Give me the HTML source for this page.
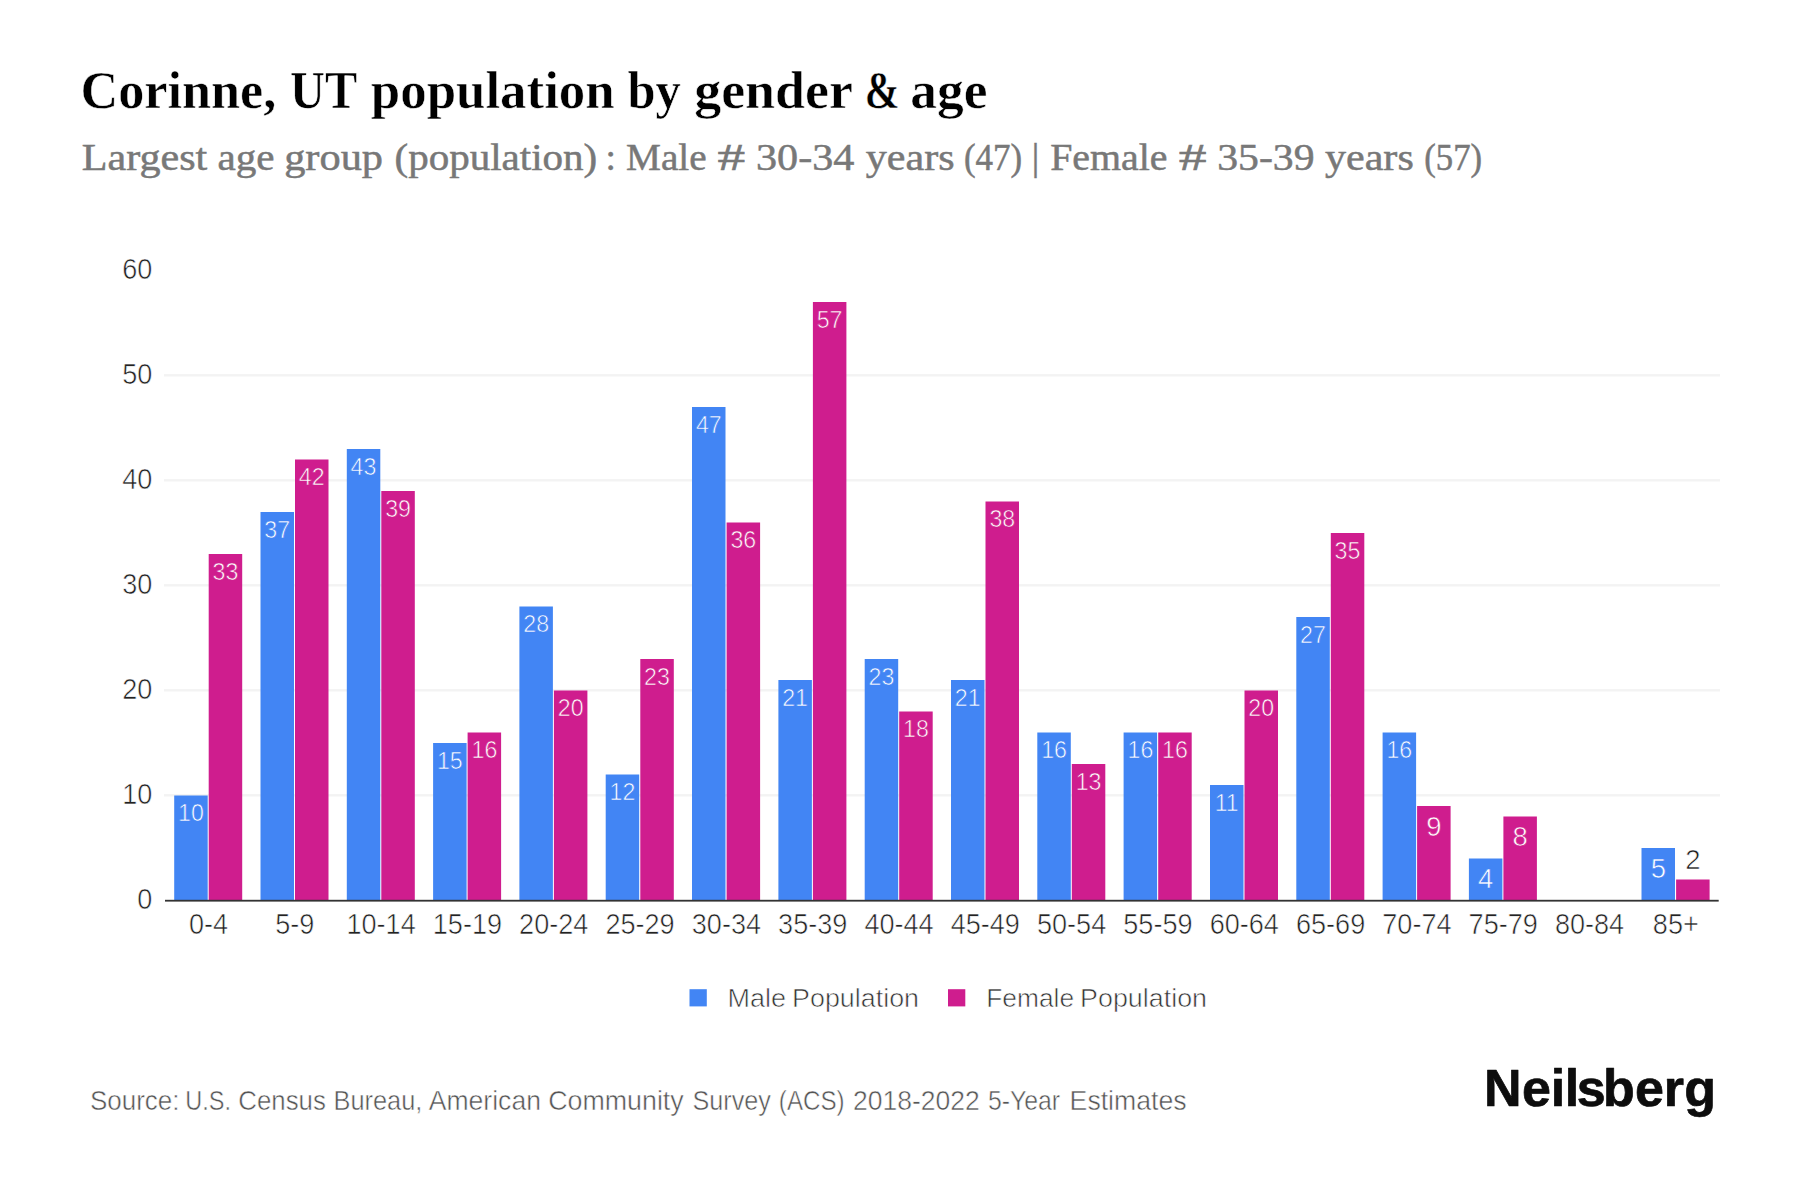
<!DOCTYPE html>
<html lang="en"><head><meta charset="utf-8"><title>Corinne, UT population by gender &amp; age</title>
<style>html,body{margin:0;padding:0;background:#fff}body{width:1800px;height:1200px;overflow:hidden}svg{display:block}text{white-space:pre}</style>
</head><body>
<svg width="1800" height="1200" viewBox="0 0 1800 1200">
<rect width="1800" height="1200" fill="#ffffff"/>
<g id="title">
<text y="107.8" font-family="'Liberation Serif', 'Times New Roman', serif" font-size="52" fill="#000000" font-weight="bold" stroke="#ffffff" stroke-width="0.5"><tspan x="80.55" textLength="195.78" lengthAdjust="spacingAndGlyphs">Corinne,</tspan> <tspan x="290.05" textLength="66.26" lengthAdjust="spacingAndGlyphs">UT</tspan> <tspan x="370.80" textLength="243.89" lengthAdjust="spacingAndGlyphs">population</tspan> <tspan x="627.50" textLength="53.30" lengthAdjust="spacingAndGlyphs">by</tspan> <tspan x="694.16" textLength="157.88" lengthAdjust="spacingAndGlyphs">gender</tspan> <tspan x="864.74" textLength="34.76" lengthAdjust="spacingAndGlyphs">&amp;</tspan> <tspan x="910.33" textLength="77.14" lengthAdjust="spacingAndGlyphs">age</tspan></text>
</g>
<g id="subtitle">
<text y="170" font-family="'Liberation Serif', 'Times New Roman', serif" font-size="37.5" fill="#787878" stroke="#787878" stroke-width="0.5"><tspan x="81.84" textLength="125.51" lengthAdjust="spacingAndGlyphs">Largest</tspan> <tspan x="217.51" textLength="57.09" lengthAdjust="spacingAndGlyphs">age</tspan> <tspan x="284.18" textLength="98.85" lengthAdjust="spacingAndGlyphs">group</tspan> <tspan x="394.52" textLength="202.76" lengthAdjust="spacingAndGlyphs">(population)</tspan> <tspan x="605.58" textLength="10.42" lengthAdjust="spacingAndGlyphs">:</tspan> <tspan x="626.09" textLength="80.57" lengthAdjust="spacingAndGlyphs">Male</tspan> <tspan x="717.44" textLength="27.63" lengthAdjust="spacingAndGlyphs">#</tspan> <tspan x="756.02" textLength="98.33" lengthAdjust="spacingAndGlyphs">30-34</tspan> <tspan x="865.80" textLength="88.75" lengthAdjust="spacingAndGlyphs">years</tspan> <tspan x="963.91" textLength="58.15" lengthAdjust="spacingAndGlyphs">(47)</tspan> <tspan x="1031.63" textLength="7.51" lengthAdjust="spacingAndGlyphs">|</tspan> <tspan x="1050.18" textLength="117.40" lengthAdjust="spacingAndGlyphs">Female</tspan> <tspan x="1178.83" textLength="27.84" lengthAdjust="spacingAndGlyphs">#</tspan> <tspan x="1217.24" textLength="97.36" lengthAdjust="spacingAndGlyphs">35-39</tspan> <tspan x="1325.00" textLength="88.75" lengthAdjust="spacingAndGlyphs">years</tspan> <tspan x="1424.22" textLength="57.84" lengthAdjust="spacingAndGlyphs">(57)</tspan></text>
</g>
<rect x="164" y="794.1" width="1556" height="2.4" fill="#f3f3f3"/>
<rect x="164" y="689.1" width="1556" height="2.4" fill="#f3f3f3"/>
<rect x="164" y="584.1" width="1556" height="2.4" fill="#f3f3f3"/>
<rect x="164" y="479.1" width="1556" height="2.4" fill="#f3f3f3"/>
<rect x="164" y="374.1" width="1556" height="2.4" fill="#f3f3f3"/>
<text transform="translate(152.3,909.0) scale(0.94,1)" text-anchor="end" font-family="'Liberation Sans', Arial, sans-serif" font-size="28.8" fill="#222222" stroke="#ffffff" stroke-width="0.6">0</text>
<text transform="translate(152.3,804.0) scale(0.94,1)" text-anchor="end" font-family="'Liberation Sans', Arial, sans-serif" font-size="28.8" fill="#222222" stroke="#ffffff" stroke-width="0.6">10</text>
<text transform="translate(152.3,699.0) scale(0.94,1)" text-anchor="end" font-family="'Liberation Sans', Arial, sans-serif" font-size="28.8" fill="#222222" stroke="#ffffff" stroke-width="0.6">20</text>
<text transform="translate(152.3,594.0) scale(0.94,1)" text-anchor="end" font-family="'Liberation Sans', Arial, sans-serif" font-size="28.8" fill="#222222" stroke="#ffffff" stroke-width="0.6">30</text>
<text transform="translate(152.3,489.0) scale(0.94,1)" text-anchor="end" font-family="'Liberation Sans', Arial, sans-serif" font-size="28.8" fill="#222222" stroke="#ffffff" stroke-width="0.6">40</text>
<text transform="translate(152.3,384.0) scale(0.94,1)" text-anchor="end" font-family="'Liberation Sans', Arial, sans-serif" font-size="28.8" fill="#222222" stroke="#ffffff" stroke-width="0.6">50</text>
<text transform="translate(152.3,279.0) scale(0.94,1)" text-anchor="end" font-family="'Liberation Sans', Arial, sans-serif" font-size="28.8" fill="#222222" stroke="#ffffff" stroke-width="0.6">60</text>
<rect x="174.2" y="795.5" width="33.5" height="105.0" fill="#4285f4"/>
<rect x="208.7" y="554.0" width="33.5" height="346.5" fill="#cf1d8e"/>
<text transform="translate(208.5,933.8) scale(0.94,1)" text-anchor="middle" font-family="'Liberation Sans', Arial, sans-serif" font-size="28.8" fill="#222222" stroke="#ffffff" stroke-width="0.6">0-4</text>
<rect x="260.5" y="512.0" width="33.5" height="388.5" fill="#4285f4"/>
<rect x="295.0" y="459.5" width="33.5" height="441.0" fill="#cf1d8e"/>
<text transform="translate(294.8,933.8) scale(0.94,1)" text-anchor="middle" font-family="'Liberation Sans', Arial, sans-serif" font-size="28.8" fill="#222222" stroke="#ffffff" stroke-width="0.6">5-9</text>
<rect x="346.8" y="449.0" width="33.5" height="451.5" fill="#4285f4"/>
<rect x="381.3" y="491.0" width="33.5" height="409.5" fill="#cf1d8e"/>
<text transform="translate(381.1,933.8) scale(0.94,1)" text-anchor="middle" font-family="'Liberation Sans', Arial, sans-serif" font-size="28.8" fill="#222222" stroke="#ffffff" stroke-width="0.6">10-14</text>
<rect x="433.1" y="743.0" width="33.5" height="157.5" fill="#4285f4"/>
<rect x="467.6" y="732.5" width="33.5" height="168.0" fill="#cf1d8e"/>
<text transform="translate(467.4,933.8) scale(0.94,1)" text-anchor="middle" font-family="'Liberation Sans', Arial, sans-serif" font-size="28.8" fill="#222222" stroke="#ffffff" stroke-width="0.6">15-19</text>
<rect x="519.4" y="606.5" width="33.5" height="294.0" fill="#4285f4"/>
<rect x="553.9" y="690.5" width="33.5" height="210.0" fill="#cf1d8e"/>
<text transform="translate(553.7,933.8) scale(0.94,1)" text-anchor="middle" font-family="'Liberation Sans', Arial, sans-serif" font-size="28.8" fill="#222222" stroke="#ffffff" stroke-width="0.6">20-24</text>
<rect x="605.7" y="774.5" width="33.5" height="126.0" fill="#4285f4"/>
<rect x="640.3" y="659.0" width="33.5" height="241.5" fill="#cf1d8e"/>
<text transform="translate(640.0,933.8) scale(0.94,1)" text-anchor="middle" font-family="'Liberation Sans', Arial, sans-serif" font-size="28.8" fill="#222222" stroke="#ffffff" stroke-width="0.6">25-29</text>
<rect x="692.0" y="407.0" width="33.5" height="493.5" fill="#4285f4"/>
<rect x="726.6" y="522.5" width="33.5" height="378.0" fill="#cf1d8e"/>
<text transform="translate(726.4,933.8) scale(0.94,1)" text-anchor="middle" font-family="'Liberation Sans', Arial, sans-serif" font-size="28.8" fill="#222222" stroke="#ffffff" stroke-width="0.6">30-34</text>
<rect x="778.4" y="680.0" width="33.5" height="220.5" fill="#4285f4"/>
<rect x="812.9" y="302.0" width="33.5" height="598.5" fill="#cf1d8e"/>
<text transform="translate(812.7,933.8) scale(0.94,1)" text-anchor="middle" font-family="'Liberation Sans', Arial, sans-serif" font-size="28.8" fill="#222222" stroke="#ffffff" stroke-width="0.6">35-39</text>
<rect x="864.7" y="659.0" width="33.5" height="241.5" fill="#4285f4"/>
<rect x="899.2" y="711.5" width="33.5" height="189.0" fill="#cf1d8e"/>
<text transform="translate(899.0,933.8) scale(0.94,1)" text-anchor="middle" font-family="'Liberation Sans', Arial, sans-serif" font-size="28.8" fill="#222222" stroke="#ffffff" stroke-width="0.6">40-44</text>
<rect x="951.0" y="680.0" width="33.5" height="220.5" fill="#4285f4"/>
<rect x="985.5" y="501.5" width="33.5" height="399.0" fill="#cf1d8e"/>
<text transform="translate(985.3,933.8) scale(0.94,1)" text-anchor="middle" font-family="'Liberation Sans', Arial, sans-serif" font-size="28.8" fill="#222222" stroke="#ffffff" stroke-width="0.6">45-49</text>
<rect x="1037.3" y="732.5" width="33.5" height="168.0" fill="#4285f4"/>
<rect x="1071.8" y="764.0" width="33.5" height="136.5" fill="#cf1d8e"/>
<text transform="translate(1071.6,933.8) scale(0.94,1)" text-anchor="middle" font-family="'Liberation Sans', Arial, sans-serif" font-size="28.8" fill="#222222" stroke="#ffffff" stroke-width="0.6">50-54</text>
<rect x="1123.6" y="732.5" width="33.5" height="168.0" fill="#4285f4"/>
<rect x="1158.2" y="732.5" width="33.5" height="168.0" fill="#cf1d8e"/>
<text transform="translate(1157.9,933.8) scale(0.94,1)" text-anchor="middle" font-family="'Liberation Sans', Arial, sans-serif" font-size="28.8" fill="#222222" stroke="#ffffff" stroke-width="0.6">55-59</text>
<rect x="1210.0" y="785.0" width="33.5" height="115.5" fill="#4285f4"/>
<rect x="1244.5" y="690.5" width="33.5" height="210.0" fill="#cf1d8e"/>
<text transform="translate(1244.3,933.8) scale(0.94,1)" text-anchor="middle" font-family="'Liberation Sans', Arial, sans-serif" font-size="28.8" fill="#222222" stroke="#ffffff" stroke-width="0.6">60-64</text>
<rect x="1296.3" y="617.0" width="33.5" height="283.5" fill="#4285f4"/>
<rect x="1330.8" y="533.0" width="33.5" height="367.5" fill="#cf1d8e"/>
<text transform="translate(1330.6,933.8) scale(0.94,1)" text-anchor="middle" font-family="'Liberation Sans', Arial, sans-serif" font-size="28.8" fill="#222222" stroke="#ffffff" stroke-width="0.6">65-69</text>
<rect x="1382.6" y="732.5" width="33.5" height="168.0" fill="#4285f4"/>
<rect x="1417.1" y="806.0" width="33.5" height="94.5" fill="#cf1d8e"/>
<text transform="translate(1416.9,933.8) scale(0.94,1)" text-anchor="middle" font-family="'Liberation Sans', Arial, sans-serif" font-size="28.8" fill="#222222" stroke="#ffffff" stroke-width="0.6">70-74</text>
<rect x="1468.9" y="858.5" width="33.5" height="42.0" fill="#4285f4"/>
<rect x="1503.4" y="816.5" width="33.5" height="84.0" fill="#cf1d8e"/>
<text transform="translate(1503.2,933.8) scale(0.94,1)" text-anchor="middle" font-family="'Liberation Sans', Arial, sans-serif" font-size="28.8" fill="#222222" stroke="#ffffff" stroke-width="0.6">75-79</text>
<text transform="translate(1589.5,933.8) scale(0.94,1)" text-anchor="middle" font-family="'Liberation Sans', Arial, sans-serif" font-size="28.8" fill="#222222" stroke="#ffffff" stroke-width="0.6">80-84</text>
<rect x="1641.5" y="848.0" width="33.5" height="52.5" fill="#4285f4"/>
<rect x="1676.1" y="879.5" width="33.5" height="21.0" fill="#cf1d8e"/>
<text transform="translate(1675.8,933.8) scale(0.94,1)" text-anchor="middle" font-family="'Liberation Sans', Arial, sans-serif" font-size="28.8" fill="#222222" stroke="#ffffff" stroke-width="0.6">85+</text>
<text x="190.9" y="821.1" text-anchor="middle" font-family="'Liberation Sans', Arial, sans-serif" font-size="23.2" fill="#ffffff" stroke="#4285f4" stroke-width="0.6">10</text>
<text x="225.4" y="579.6" text-anchor="middle" font-family="'Liberation Sans', Arial, sans-serif" font-size="23.2" fill="#ffffff" stroke="#cf1d8e" stroke-width="0.6">33</text>
<text x="277.2" y="537.6" text-anchor="middle" font-family="'Liberation Sans', Arial, sans-serif" font-size="23.2" fill="#ffffff" stroke="#4285f4" stroke-width="0.6">37</text>
<text x="311.7" y="485.1" text-anchor="middle" font-family="'Liberation Sans', Arial, sans-serif" font-size="23.2" fill="#ffffff" stroke="#cf1d8e" stroke-width="0.6">42</text>
<text x="363.5" y="474.6" text-anchor="middle" font-family="'Liberation Sans', Arial, sans-serif" font-size="23.2" fill="#ffffff" stroke="#4285f4" stroke-width="0.6">43</text>
<text x="398.1" y="516.6" text-anchor="middle" font-family="'Liberation Sans', Arial, sans-serif" font-size="23.2" fill="#ffffff" stroke="#cf1d8e" stroke-width="0.6">39</text>
<text x="449.8" y="768.6" text-anchor="middle" font-family="'Liberation Sans', Arial, sans-serif" font-size="23.2" fill="#ffffff" stroke="#4285f4" stroke-width="0.6">15</text>
<text x="484.4" y="758.1" text-anchor="middle" font-family="'Liberation Sans', Arial, sans-serif" font-size="23.2" fill="#ffffff" stroke="#cf1d8e" stroke-width="0.6">16</text>
<text x="536.2" y="632.1" text-anchor="middle" font-family="'Liberation Sans', Arial, sans-serif" font-size="23.2" fill="#ffffff" stroke="#4285f4" stroke-width="0.6">28</text>
<text x="570.7" y="716.1" text-anchor="middle" font-family="'Liberation Sans', Arial, sans-serif" font-size="23.2" fill="#ffffff" stroke="#cf1d8e" stroke-width="0.6">20</text>
<text x="622.5" y="800.1" text-anchor="middle" font-family="'Liberation Sans', Arial, sans-serif" font-size="23.2" fill="#ffffff" stroke="#4285f4" stroke-width="0.6">12</text>
<text x="657.0" y="684.6" text-anchor="middle" font-family="'Liberation Sans', Arial, sans-serif" font-size="23.2" fill="#ffffff" stroke="#cf1d8e" stroke-width="0.6">23</text>
<text x="708.8" y="432.6" text-anchor="middle" font-family="'Liberation Sans', Arial, sans-serif" font-size="23.2" fill="#ffffff" stroke="#4285f4" stroke-width="0.6">47</text>
<text x="743.3" y="548.1" text-anchor="middle" font-family="'Liberation Sans', Arial, sans-serif" font-size="23.2" fill="#ffffff" stroke="#cf1d8e" stroke-width="0.6">36</text>
<text x="795.1" y="705.6" text-anchor="middle" font-family="'Liberation Sans', Arial, sans-serif" font-size="23.2" fill="#ffffff" stroke="#4285f4" stroke-width="0.6">21</text>
<text x="829.6" y="327.6" text-anchor="middle" font-family="'Liberation Sans', Arial, sans-serif" font-size="23.2" fill="#ffffff" stroke="#cf1d8e" stroke-width="0.6">57</text>
<text x="881.4" y="684.6" text-anchor="middle" font-family="'Liberation Sans', Arial, sans-serif" font-size="23.2" fill="#ffffff" stroke="#4285f4" stroke-width="0.6">23</text>
<text x="916.0" y="737.1" text-anchor="middle" font-family="'Liberation Sans', Arial, sans-serif" font-size="23.2" fill="#ffffff" stroke="#cf1d8e" stroke-width="0.6">18</text>
<text x="967.7" y="705.6" text-anchor="middle" font-family="'Liberation Sans', Arial, sans-serif" font-size="23.2" fill="#ffffff" stroke="#4285f4" stroke-width="0.6">21</text>
<text x="1002.3" y="527.1" text-anchor="middle" font-family="'Liberation Sans', Arial, sans-serif" font-size="23.2" fill="#ffffff" stroke="#cf1d8e" stroke-width="0.6">38</text>
<text x="1054.1" y="758.1" text-anchor="middle" font-family="'Liberation Sans', Arial, sans-serif" font-size="23.2" fill="#ffffff" stroke="#4285f4" stroke-width="0.6">16</text>
<text x="1088.6" y="789.6" text-anchor="middle" font-family="'Liberation Sans', Arial, sans-serif" font-size="23.2" fill="#ffffff" stroke="#cf1d8e" stroke-width="0.6">13</text>
<text x="1140.4" y="758.1" text-anchor="middle" font-family="'Liberation Sans', Arial, sans-serif" font-size="23.2" fill="#ffffff" stroke="#4285f4" stroke-width="0.6">16</text>
<text x="1174.9" y="758.1" text-anchor="middle" font-family="'Liberation Sans', Arial, sans-serif" font-size="23.2" fill="#ffffff" stroke="#cf1d8e" stroke-width="0.6">16</text>
<text x="1226.7" y="810.6" text-anchor="middle" font-family="'Liberation Sans', Arial, sans-serif" font-size="23.2" fill="#ffffff" stroke="#4285f4" stroke-width="0.6">11</text>
<text x="1261.2" y="716.1" text-anchor="middle" font-family="'Liberation Sans', Arial, sans-serif" font-size="23.2" fill="#ffffff" stroke="#cf1d8e" stroke-width="0.6">20</text>
<text x="1313.0" y="642.6" text-anchor="middle" font-family="'Liberation Sans', Arial, sans-serif" font-size="23.2" fill="#ffffff" stroke="#4285f4" stroke-width="0.6">27</text>
<text x="1347.5" y="558.6" text-anchor="middle" font-family="'Liberation Sans', Arial, sans-serif" font-size="23.2" fill="#ffffff" stroke="#cf1d8e" stroke-width="0.6">35</text>
<text x="1399.3" y="758.1" text-anchor="middle" font-family="'Liberation Sans', Arial, sans-serif" font-size="23.2" fill="#ffffff" stroke="#4285f4" stroke-width="0.6">16</text>
<text x="1433.9" y="835.5" text-anchor="middle" font-family="'Liberation Sans', Arial, sans-serif" font-size="27.5" fill="#ffffff" stroke="#cf1d8e" stroke-width="0.6">9</text>
<text x="1485.7" y="888.0" text-anchor="middle" font-family="'Liberation Sans', Arial, sans-serif" font-size="27.5" fill="#ffffff" stroke="#4285f4" stroke-width="0.6">4</text>
<text x="1520.2" y="846.0" text-anchor="middle" font-family="'Liberation Sans', Arial, sans-serif" font-size="27.5" fill="#ffffff" stroke="#cf1d8e" stroke-width="0.6">8</text>
<text x="1658.3" y="877.5" text-anchor="middle" font-family="'Liberation Sans', Arial, sans-serif" font-size="27.5" fill="#ffffff" stroke="#4285f4" stroke-width="0.6">5</text>
<text x="1692.8" y="868.7" text-anchor="middle" font-family="'Liberation Sans', Arial, sans-serif" font-size="27.5" fill="#1a1a1a" stroke="#ffffff" stroke-width="0.6">2</text>
<rect x="165.0" y="899.8" width="1553.7" height="1.8" fill="#333333"/>
<rect x="689.5" y="989.2" width="17.3" height="17.2" fill="#4285f4"/>
<rect x="948" y="989.2" width="17.3" height="17.2" fill="#cf1d8e"/>
<g id="legend">
<text y="1006.8" font-family="'Liberation Sans', Arial, sans-serif" font-size="25.5" fill="#333333" stroke="#ffffff" stroke-width="0.6"><tspan x="727.59" textLength="58.50" lengthAdjust="spacingAndGlyphs">Male</tspan> <tspan x="792.10" textLength="126.91" lengthAdjust="spacingAndGlyphs">Population</tspan> <tspan x="986.24" textLength="87.83" lengthAdjust="spacingAndGlyphs">Female</tspan> <tspan x="1080.10" textLength="126.91" lengthAdjust="spacingAndGlyphs">Population</tspan></text>
</g>
<g id="source">
<text y="1109.8" font-family="'Liberation Sans', Arial, sans-serif" font-size="27.3" fill="#555555" stroke="#ffffff" stroke-width="0.5"><tspan x="89.99" textLength="89.56" lengthAdjust="spacingAndGlyphs">Source:</tspan> <tspan x="185.23" textLength="45.69" lengthAdjust="spacingAndGlyphs">U.S.</tspan> <tspan x="238.29" textLength="87.52" lengthAdjust="spacingAndGlyphs">Census</tspan> <tspan x="333.52" textLength="88.88" lengthAdjust="spacingAndGlyphs">Bureau,</tspan> <tspan x="428.70" textLength="112.29" lengthAdjust="spacingAndGlyphs">American</tspan> <tspan x="548.14" textLength="135.56" lengthAdjust="spacingAndGlyphs">Community</tspan> <tspan x="692.51" textLength="78.29" lengthAdjust="spacingAndGlyphs">Survey</tspan> <tspan x="778.87" textLength="65.68" lengthAdjust="spacingAndGlyphs">(ACS)</tspan> <tspan x="852.96" textLength="126.82" lengthAdjust="spacingAndGlyphs">2018-2022</tspan> <tspan x="987.92" textLength="72.20" lengthAdjust="spacingAndGlyphs">5-Year</tspan> <tspan x="1069.62" textLength="117.02" lengthAdjust="spacingAndGlyphs">Estimates</tspan></text>
</g>
<g id="logo">
<text x="1483.96 1521.97 1550.79 1564.79 1576.78 1603.04 1634.93 1663.72 1684.32" y="1105.6" font-family="'Liberation Sans', Arial, sans-serif" font-weight="bold" font-size="52.0" fill="#0d0d0d" stroke="#0d0d0d" stroke-width="0.7" stroke-linejoin="round">Neilsberg</text>
</g>
</svg>
</body></html>
